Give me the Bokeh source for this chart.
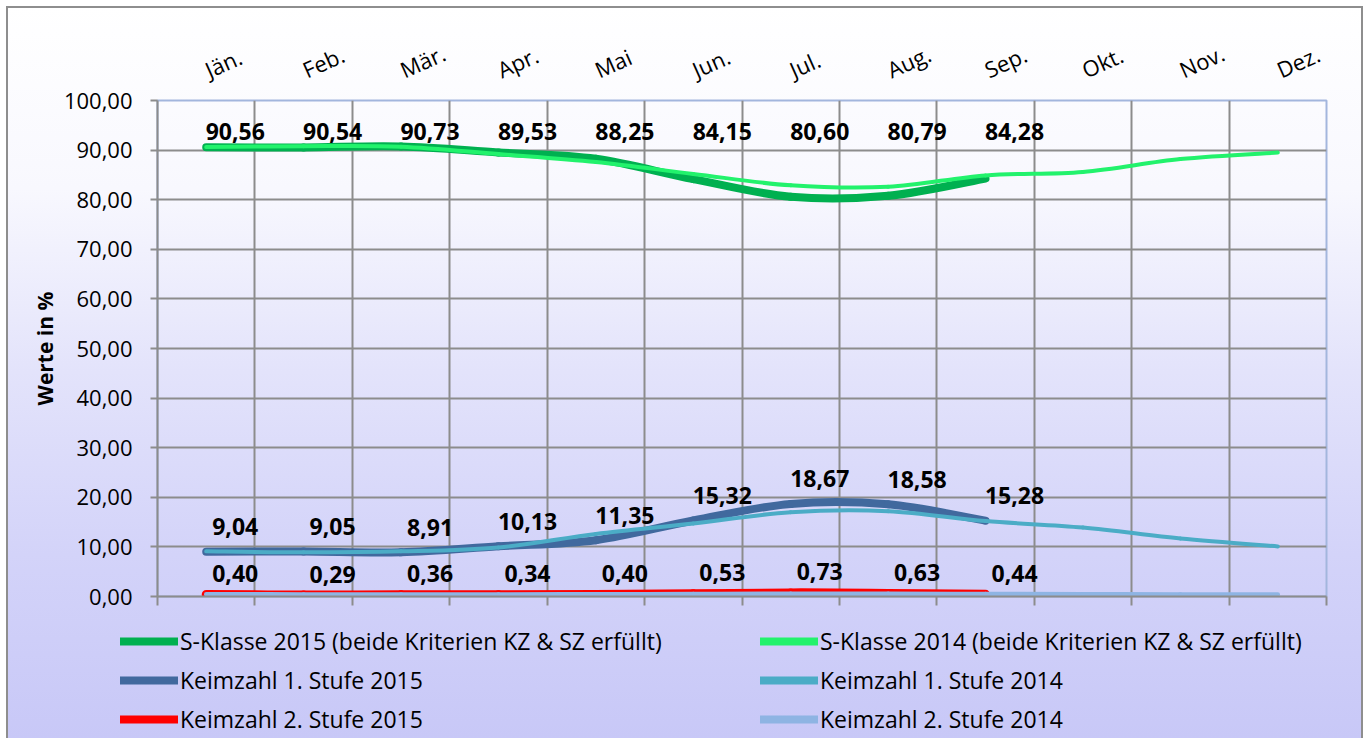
import numpy as np
from bokeh.plotting import figure
from bokeh.layouts import column
from bokeh.models import (ColumnDataSource, Range1d, LinearAxis, FixedTicker,
                          Legend, LegendItem)
from bokeh.core.properties import value
from bokeh.embed import file_html
from bokeh.resources import INLINE

# ---------------- data ----------------
months = ["Jän.", "Feb.", "Mär.", "Apr.", "Mai", "Jun.", "Jul.", "Aug.",
          "Sep.", "Okt.", "Nov.", "Dez."]

s_klasse_2015 = [90.56, 90.54, 90.73, 89.53, 88.25, 84.15, 80.60, 80.79, 84.28]
s_klasse_2014 = [90.6, 90.8, 90.7, 89.2, 87.6, 85.2, 82.9, 82.6, 84.9, 85.6, 88.2, 89.5]

keim1_2015 = [9.04, 9.05, 8.91, 10.13, 11.35, 15.32, 18.67, 18.58, 15.28]
keim1_2014 = [9.1, 8.9, 9.1, 9.9, 12.6, 14.7, 17.0, 17.2, 15.2, 13.9, 11.7, 10.1]

keim2_2015 = [0.40, 0.29, 0.36, 0.34, 0.40, 0.53, 0.73, 0.63, 0.44]
keim2_2014 = [0.45, 0.42, 0.42, 0.40, 0.45, 0.50, 0.55, 0.55, 0.50, 0.45, 0.42, 0.42]

y_ticks = [0, 10, 20, 30, 40, 50, 60, 70, 80, 90, 100]
y_tick_labels = ["0,00", "10,00", "20,00", "30,00", "40,00", "50,00",
                 "60,00", "70,00", "80,00", "90,00", "100,00"]

series_names = ["S-Klasse 2015 (beide Kriterien KZ & SZ erfüllt)",
                "S-Klasse 2014 (beide Kriterien KZ & SZ erfüllt)",
                "Keimzahl 1. Stufe 2015", "Keimzahl 1. Stufe 2014",
                "Keimzahl 2. Stufe 2015", "Keimzahl 2. Stufe 2014"]

# ---------------- styles ----------------
FONT_NAME = "Open Sans"
FONT = value(FONT_NAME)
styles = {
    series_names[0]: dict(color="#00B050", width=8),
    series_names[1]: dict(color="#22F26C", width=4),
    series_names[2]: dict(color="#41699E", width=8),
    series_names[3]: dict(color="#4BACC6", width=4),
    series_names[4]: dict(color="#FF0000", width=9),
    series_names[5]: dict(color="#8EB4E3", width=4.5),
}
GRID = "#8C8C8C"


def fmt(v):
    return f"{v:.2f}".replace(".", ",")


def positions(vals):
    return [i + 0.5 for i in range(len(vals))]


def smooth_source(vals):
    xs = positions(vals)
    ys = list(vals)
    n = len(xs)
    d = dict(x0=[], y0=[], x1=[], y1=[], cx0=[], cy0=[], cx1=[], cy1=[])
    for i in range(n - 1):
        xp, yp = (xs[i - 1], ys[i - 1]) if i > 0 else (xs[i], ys[i])
        xn, yn = (xs[i + 2], ys[i + 2]) if i + 2 < n else (xs[i + 1], ys[i + 1])
        d["x0"].append(xs[i]); d["y0"].append(ys[i])
        d["x1"].append(xs[i + 1]); d["y1"].append(ys[i + 1])
        d["cx0"].append(xs[i] + (xs[i + 1] - xp) / 6.0)
        d["cy0"].append(ys[i] + (ys[i + 1] - yp) / 6.0)
        d["cx1"].append(xs[i + 1] - (xn - xs[i]) / 6.0)
        d["cy1"].append(ys[i + 1] - (yn - ys[i]) / 6.0)
    return ColumnDataSource(d)


W, H_MAIN, H_LEG = 1357, 612, 120
p = figure(width=W, height=H_MAIN, output_backend="svg", toolbar_location=None,
           x_range=Range1d(0, 12), y_range=Range1d(0, 100),
           min_border_left=151, min_border_right=37,
           min_border_top=94, min_border_bottom=22)
p.frame_align = False
p.background_fill_alpha = 0
p.border_fill_alpha = 0
p.outline_line_color = "#A3B6DD"
p.outline_line_width = 2

# bottom axis: only boundary ticks
bx = p.below[0]
bx.ticker = FixedTicker(ticks=list(range(13)))
bx.axis_line_color = GRID
bx.axis_line_width = 2
bx.major_tick_line_color = GRID
bx.major_tick_line_width = 2
bx.major_tick_out = 9
bx.major_tick_in = 0
bx.minor_tick_line_color = None
bx.major_label_text_font_size = "0px"
bx.major_label_text_alpha = 0
bx.major_label_standoff = 0

# left axis
ly = p.left[0]
ly.ticker = FixedTicker(ticks=y_ticks)
ly.major_label_overrides = {t: l for t, l in zip(y_ticks, y_tick_labels)}
ly.axis_line_color = GRID
ly.axis_line_width = 2
ly.major_tick_line_color = GRID
ly.major_tick_line_width = 2
ly.major_tick_out = 7
ly.major_tick_in = 0
ly.minor_tick_line_color = None
ly.major_label_standoff = 18
ly.major_label_text_font = FONT_NAME
ly.major_label_text_font_size = "22px"
ly.major_label_text_color = "black"
ly.axis_label = "Werte in %"
ly.axis_label_text_font = FONT_NAME
ly.axis_label_text_font_style = "bold"
ly.axis_label_text_font_size = "21px"
ly.axis_label_text_color = "black"
ly.axis_label_standoff = 2

# top axis with month names
top = LinearAxis(ticker=FixedTicker(ticks=positions(months)),
                 major_label_overrides={x: m for x, m in zip(positions(months), months)},
                 major_label_orientation=0.42,
                 axis_line_color=None, major_tick_line_color=None,
                 minor_tick_line_color=None, major_label_standoff=24,
                 major_label_text_font=FONT_NAME, major_label_text_font_size="22px",
                 major_label_text_color="black")
p.add_layout(top, "above")

p.xgrid.ticker = FixedTicker(ticks=list(range(13)))
p.ygrid.ticker = FixedTicker(ticks=y_ticks)
for g in (p.xgrid[0], p.ygrid[0]):
    g.grid_line_color = GRID
    g.grid_line_width = 2

# ---------------- series ----------------
series_vals = [s_klasse_2015, s_klasse_2014, keim1_2015, keim1_2014,
               keim2_2015, keim2_2014]
for name, vals in zip(series_names, series_vals):
    st = styles[name]
    p.bezier(x0="x0", y0="y0", x1="x1", y1="y1", cx0="cx0", cy0="cy0",
             cx1="cx1", cy1="cy1", source=smooth_source(vals),
             line_color=st["color"], line_width=st["width"], line_cap="round")

# ---------------- data labels ----------------
common = dict(text_align="center", text_baseline="middle", x_offset=29,
              text_font=FONT, text_font_style="bold", text_font_size="23px",
              text_color="black")
p.text(x=positions(s_klasse_2015), y=[93.8] * len(s_klasse_2015),
       text=[fmt(v) for v in s_klasse_2015], **common)
p.text(x=positions(keim1_2015), y=keim1_2015,
       text=[fmt(v) for v in keim1_2015], y_offset=-25, **common)
p.text(x=positions(keim2_2015), y=keim2_2015,
       text=[fmt(v) for v in keim2_2015], y_offset=-21, **common)

# ---------------- legend (separate strip) ----------------
lg = figure(width=W, height=H_LEG, output_backend="svg", toolbar_location=None,
            x_range=Range1d(0, 1), y_range=Range1d(0, 1),
            x_axis_location=None, y_axis_location=None,
            min_border=0, min_border_left=0, min_border_right=0,
            min_border_top=0, min_border_bottom=0)
lg.frame_align = False
lg.background_fill_alpha = 0
lg.border_fill_alpha = 0
lg.outline_line_color = None
lg.xgrid.visible = False
lg.ygrid.visible = False
legend_items = []
for name in series_names:
    st = styles[name]
    # legend proxy: a single undefined point, nothing is drawn in the strip
    r = lg.line(x=[np.nan], y=[np.nan], line_color=st["color"], line_width=8,
                line_cap="round")
    legend_items.append(LegendItem(label=name, renderers=[r]))

legend = Legend(items=legend_items, location=(114, 3),
                orientation="horizontal", ncols=2,
                glyph_width=58, glyph_height=30, label_height=30,
                label_width=573, label_standoff=2, spacing=7,
                padding=0, margin=0, border_line_alpha=0,
                background_fill_alpha=0,
                label_text_font=FONT_NAME, label_text_font_size="23px",
                label_text_color="black")
lg.add_layout(legend)

layout = column(p, lg, spacing=0)
layout.margin = (6, 0, 0, 6)
layout.styles = {
    "background": "linear-gradient(to bottom, #FFFFFF 0%, #F8F8FE 25%, "
                  "#E3E3FB 50%, #D3D3F9 75%, #C8C8F7 100%)",
    "box-shadow": "inset 2px 0 0 0 #8E8E8E, inset -2px 0 0 0 #8E8E8E, "
                  "inset 0 2px 0 0 #8E8E8E",
}

open("out.html", "w").write(file_html(layout, INLINE))
